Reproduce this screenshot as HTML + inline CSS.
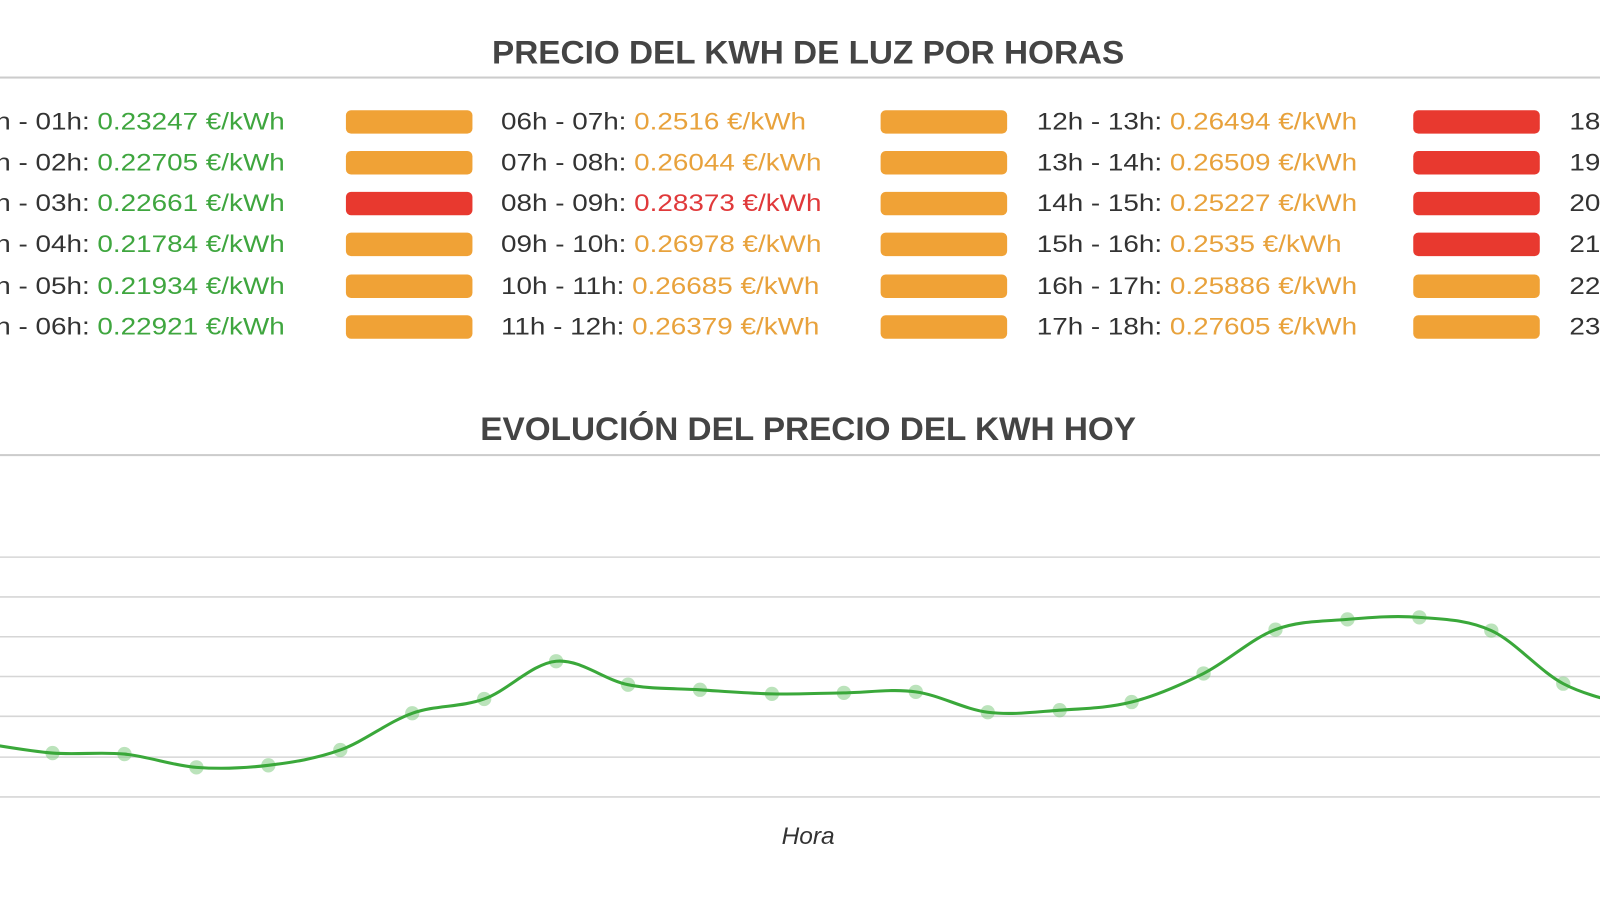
<!DOCTYPE html>
<html><head><meta charset="utf-8"><style>
html,body{margin:0;padding:0;width:1600px;height:900px;overflow:hidden;background:#fff;}
#w{position:absolute;left:0;top:0;width:1568px;height:882px;overflow:hidden;transform:scale(1.0204);transform-origin:0 0;font-family:"Liberation Sans",sans-serif;}
.t{position:absolute;left:0;width:1584px;text-align:center;font-weight:bold;font-size:32px;color:#444;transform:scaleX(1.02);transform-origin:792px 0;}
.hr{position:absolute;left:0;width:1568px;height:2px;background:#ccc;}
.r{position:absolute;font-size:24px;color:#333;white-space:nowrap;line-height:28px;transform:scaleX(1.137);transform-origin:0 0;}
.g{color:#3fa63f}.o{color:#e8a23c}.rd{color:#e0393a}
.b{position:absolute;width:124px;height:23px;border-radius:5px;}
.bo{background:#f0a236}.br{background:#e8392f}
</style></head><body><div id="w">
<div class="t" style="top:33px">PRECIO DEL KWH DE LUZ POR HORAS</div>
<div class="hr" style="top:75px"></div>

<div class="r" style="left:-35px;top:106px">00h - 01h: <span class="g">0.23247 €/kWh</span></div>
<div class="r" style="left:-35px;top:146px">01h - 02h: <span class="g">0.22705 €/kWh</span></div>
<div class="r" style="left:-35px;top:186px">02h - 03h: <span class="g">0.22661 €/kWh</span></div>
<div class="r" style="left:-35px;top:226px">03h - 04h: <span class="g">0.21784 €/kWh</span></div>
<div class="r" style="left:-35px;top:267px">04h - 05h: <span class="g">0.21934 €/kWh</span></div>
<div class="r" style="left:-35px;top:307px">05h - 06h: <span class="g">0.22921 €/kWh</span></div>

<div class="b bo" style="left:339px;top:108px"></div>
<div class="b bo" style="left:339px;top:148px"></div>
<div class="b br" style="left:339px;top:188px"></div>
<div class="b bo" style="left:339px;top:228px"></div>
<div class="b bo" style="left:339px;top:269px"></div>
<div class="b bo" style="left:339px;top:309px"></div>

<div class="r" style="left:491px;top:106px">06h - 07h: <span class="o">0.2516 €/kWh</span></div>
<div class="r" style="left:491px;top:146px">07h - 08h: <span class="o">0.26044 €/kWh</span></div>
<div class="r" style="left:491px;top:186px">08h - 09h: <span class="rd">0.28373 €/kWh</span></div>
<div class="r" style="left:491px;top:226px">09h - 10h: <span class="o">0.26978 €/kWh</span></div>
<div class="r" style="left:491px;top:267px">10h - 11h: <span class="o">0.26685 €/kWh</span></div>
<div class="r" style="left:491px;top:307px">11h - 12h: <span class="o">0.26379 €/kWh</span></div>

<div class="b bo" style="left:863px;top:108px"></div>
<div class="b bo" style="left:863px;top:148px"></div>
<div class="b bo" style="left:863px;top:188px"></div>
<div class="b bo" style="left:863px;top:228px"></div>
<div class="b bo" style="left:863px;top:269px"></div>
<div class="b bo" style="left:863px;top:309px"></div>

<div class="r" style="left:1016px;top:106px">12h - 13h: <span class="o">0.26494 €/kWh</span></div>
<div class="r" style="left:1016px;top:146px">13h - 14h: <span class="o">0.26509 €/kWh</span></div>
<div class="r" style="left:1016px;top:186px">14h - 15h: <span class="o">0.25227 €/kWh</span></div>
<div class="r" style="left:1016px;top:226px">15h - 16h: <span class="o">0.2535 €/kWh</span></div>
<div class="r" style="left:1016px;top:267px">16h - 17h: <span class="o">0.25886 €/kWh</span></div>
<div class="r" style="left:1016px;top:307px">17h - 18h: <span class="o">0.27605 €/kWh</span></div>

<div class="b br" style="left:1385px;top:108px"></div>
<div class="b br" style="left:1385px;top:148px"></div>
<div class="b br" style="left:1385px;top:188px"></div>
<div class="b br" style="left:1385px;top:228px"></div>
<div class="b bo" style="left:1385px;top:269px"></div>
<div class="b bo" style="left:1385px;top:309px"></div>

<div class="r" style="left:1538px;top:106px">18h - 19h</div>
<div class="r" style="left:1538px;top:146px">19h - 20h</div>
<div class="r" style="left:1538px;top:186px">20h - 21h</div>
<div class="r" style="left:1538px;top:226px">21h - 22h</div>
<div class="r" style="left:1538px;top:267px">22h - 23h</div>
<div class="r" style="left:1538px;top:307px">23h - 24h</div>

<div class="t" style="top:402px">EVOLUCIÓN DEL PRECIO DEL KWH HOY</div>
<div class="hr" style="top:445px"></div>

<svg style="position:absolute;left:0;top:0" width="1568" height="882">
<g stroke="#d6d6d6" stroke-width="1.5">
<line x1="0" x2="1568" y1="546" y2="546"/><line x1="0" x2="1568" y1="585" y2="585"/>
<line x1="0" x2="1568" y1="624" y2="624"/><line x1="0" x2="1568" y1="663" y2="663"/>
<line x1="0" x2="1568" y1="702" y2="702"/><line x1="0" x2="1568" y1="742" y2="742"/>
<line x1="0" x2="1568" y1="781" y2="781"/>
</g>
<g id="pts" fill="rgba(120,200,120,0.5)"></g>
<path id="ln" fill="none" stroke="#3aa83a" stroke-width="3"/>
<text x="792" y="827" text-anchor="middle" font-family="Liberation Sans" font-style="italic" font-size="24" fill="#333">Hora</text>
</svg>
</div>
<script>
var ys=[728,738,739,752,750,735,699,685,648,671,676,680,679,678,698,696,688,660,617,607,605,618,670,693];
var p=ys.map(function(y,i){return [-19+i*70.5,y];});
var d="M"+p[0][0]+","+p[0][1];
for(var i=0;i<p.length-1;i++){var a=p[i-1]||p[i],b=p[i],c=p[i+1],e=p[i+2]||c;
d+=" C"+(b[0]+(c[0]-a[0])/6)+","+(b[1]+(c[1]-a[1])/6)+" "+(c[0]-(e[0]-b[0])/6)+","+(c[1]-(e[1]-b[1])/6)+" "+c[0]+","+c[1];}
document.getElementById("ln").setAttribute("d",d);
var g=document.getElementById("pts"),s="";
p.forEach(function(q){s+='<circle cx="'+q[0]+'" cy="'+q[1]+'" r="7"/>';});
g.innerHTML=s;
</script>
</body></html>
